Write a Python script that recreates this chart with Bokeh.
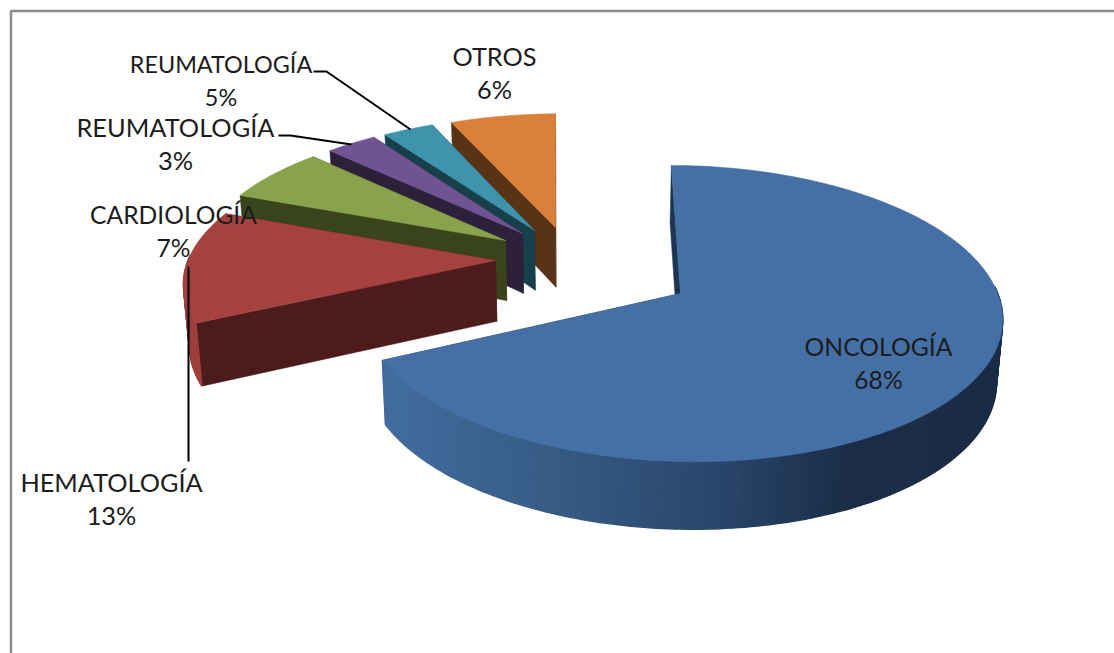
import numpy as np
from bokeh.plotting import figure
from bokeh.models import Range1d
from bokeh.core.properties import value
from bokeh.embed import file_html
from bokeh.resources import INLINE

# ---- data -------------------------------------------------------------
CATEGORIES = ["ONCOLOGÍA", "HEMATOLOGÍA", "CARDIOLOGÍA", "REUMATOLOGÍA", "REUMATOLOGÍA", "OTROS"]
PERCENT_LABELS = ["68%", "13%", "7%", "3%", "5%", "6%"]
# slice sizes as drawn in the picture (the printed labels add up to 102)
SLICE_SHARE = [68.0, 13.0, 6.4, 3.1, 3.1, 6.4]

# ---- style / layout ----------------------------------------------------
TOP_COLORS = ["#4570a6", "#a5423f", "#88a34c", "#6f5392", "#3f93ad", "#d8803c"]
FACE_COLORS = ["#1c3553", "#4b1c1b", "#3a441c", "#2c2139", "#17404c", "#5a3316"]
WALL_COLORS = [None, "#9c3f3b", "#6e8a3a", "#2c2139", "#17404c", "#5a3316"]
EXPLODE_DX = [93, -92, -82, -65, -53, -32]
EXPLODE_DY = [28, -5, -25, -32, -35, -38]
LABEL_X = [878, 111, 173, 175, 220.5, 494]
LABEL_Y = [346, 481, 214, 126, 63, 55]
LABEL_SIZE = ["24.7px", "25.3px", "24.6px", "25.4px", "23.4px", "25.3px"]
LINE_GAP = 33
FONT = value("Lato")
X0, Y0, A, B, K, DEPTH, SHRINK = 587.0, 265.0, 309.0, 138.0, 0.132, 61.0, 0.985
START_DEG = 0.4
SWEEP_DEG = 358.8
WALL_STOPS_X = [393, 580, 730, 850, 1003]
WALL_STOPS = [(0x42, 0x6c, 0x9e), (0x34, 0x58, 0x80), (0x28, 0x44, 0x68), (0x1b, 0x2d, 0x47), (0x1a, 0x2c, 0x46)]

W, H = 1114, 653
p = figure(width=W, height=H, output_backend="svg", toolbar_location=None,
           x_range=Range1d(0, W), y_range=Range1d(H, 0), min_border=0)
p.axis.visible = False
p.grid.visible = False
p.outline_line_color = None
p.background_fill_color = "white"


def project(X, Y, bottom=False):
    X = np.asarray(X, float)
    Y = np.asarray(Y, float)
    w = 1 + K * Y
    sx = X0 + A * X / w
    sy = Y0 - B * Y / w
    if bottom:
        sx = X0 + (sx - X0) * SHRINK
        sy = sy + DEPTH / (1 + 0.6 * K * Y)
    return sx, sy


def apex_world(dx, dy):
    v = -dy / B
    Y = v / (1 - K * v)
    return dx / A * (1 + K * Y), Y


def wall_color(x):
    c = [int(round(np.interp(x, WALL_STOPS_X, [s[i] for s in WALL_STOPS]))) for i in range(3)]
    return "#%02x%02x%02x" % tuple(c)


total = sum(SLICE_SHARE)
edges = START_DEG + np.concatenate([[0], np.cumsum(SLICE_SHARE)]) * SWEEP_DEG / total

for i in reversed(range(len(SLICE_SHARE))):
    a0, a1 = edges[i], edges[i + 1]
    th = np.radians(np.linspace(a0, a1, max(int(a1 - a0), 8)))
    ax, ay = apex_world(EXPLODE_DX[i], EXPLODE_DY[i])
    RX, RY = ax + np.sin(th), ay + np.cos(th)
    tx, ty = project(RX, RY)
    bx, by = project(RX, RY, True)
    atx, aty = project(ax, ay)
    abx, aby = project(ax, ay, True)
    # cut faces
    for j in (0, -1):
        p.patch([float(atx), tx[j], bx[j], float(abx)], [float(aty), ty[j], by[j], float(aby)],
                fill_color=FACE_COLORS[i], line_color=FACE_COLORS[i], line_width=0.5)
    # outer wall: only the part that faces the viewer
    for j in range(len(th) - 1):
        if np.cos(0.5 * (th[j] + th[j + 1])) > 0.05:
            continue
        col = WALL_COLORS[i] or wall_color(0.5 * (tx[j] + tx[j + 1]))
        p.patch([tx[j], tx[j + 1], bx[j + 1], bx[j]], [ty[j], ty[j + 1], by[j + 1], by[j]],
                fill_color=col, line_color=col, line_width=1.5)
    # top face
    p.patch([float(atx)] + list(tx), [float(aty)] + list(ty),
            fill_color=TOP_COLORS[i], line_color=TOP_COLORS[i], line_width=0.5)

# frame
p.line([10.5, 10.5, 1114], [653, 10.5, 10.5], line_color="#8c8c8c", line_width=2.5)

# leader lines
LEADERS = [([313, 326, 410], [71, 71, 129]),
           ([278, 290, 351], [135, 135, 144]),
           ([188, 188], [266, 461])]
for lx, ly in LEADERS:
    p.line(lx, ly, line_color="black", line_width=2)

# labels
for name, pct, lx, ly, fs in zip(CATEGORIES, PERCENT_LABELS, LABEL_X, LABEL_Y, LABEL_SIZE):
    p.text([lx], [ly], text=[name], text_font=FONT, text_font_size=fs,
           text_align="center", text_baseline="middle", text_color="#1c1c1c")
    p.text([lx], [ly + LINE_GAP], text=[pct], text_font=FONT, text_font_size=fs,
           text_align="center", text_baseline="middle", text_color="#1c1c1c")

open("out.html", "w").write(file_html(p, INLINE))
